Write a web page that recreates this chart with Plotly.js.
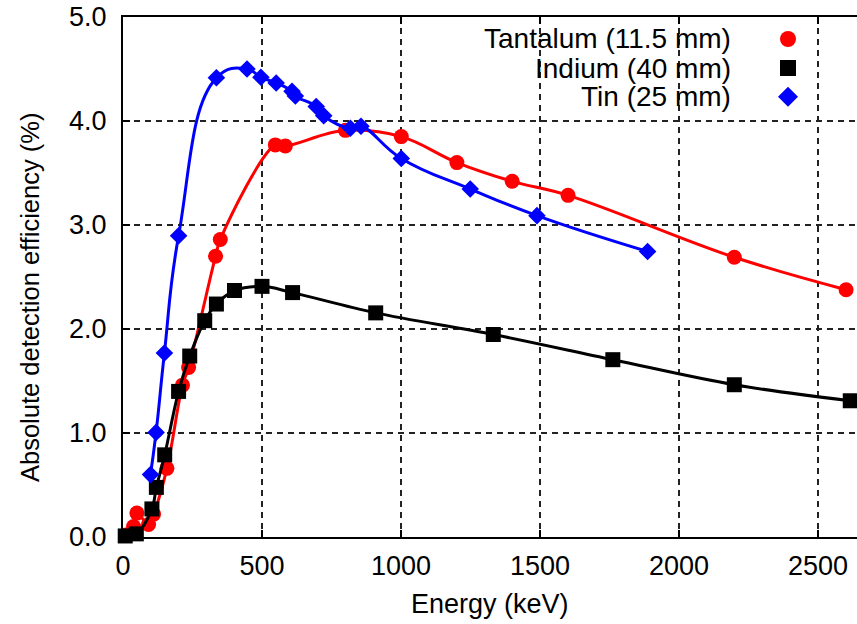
<!DOCTYPE html>
<html><head><meta charset="utf-8">
<script src="https://cdn.plot.ly/plotly-3.0.1.min.js"></script>
<style>html,body{margin:0;padding:0;background:#fff}</style>
</head><body><div id="chart" style="width:857px;height:624px"></div>
<script>
// Energies in keV, efficiencies in %
const tantalumEnergy = [10, 38, 50, 92, 110, 158, 214, 236, 333, 350, 548, 584, 800, 1001, 1201, 1400, 1601, 2199, 2601];
const tantalumEff    = [0.02, 0.10, 0.23, 0.12, 0.22, 0.66, 1.46, 1.63, 2.70, 2.86, 3.77, 3.76, 3.91, 3.85, 3.60, 3.42, 3.285, 2.69, 2.378];

const indiumEnergy = [8, 48, 104, 120, 150, 200, 240, 294, 336, 401, 500, 610, 909, 1332, 1762, 2199, 2616];
const indiumEff    = [0.01, 0.03, 0.27, 0.477, 0.79, 1.40, 1.74, 2.08, 2.24, 2.37, 2.41, 2.35, 2.155, 1.947, 1.705, 1.464, 1.31];

const tinEnergy = [99, 119, 149, 200, 336, 446, 496, 551, 608, 620, 695, 722, 818, 856, 1001, 1249, 1489, 1887];
const tinEff    = [0.60, 1.006, 1.77, 2.897, 4.415, 4.50, 4.42, 4.365, 4.285, 4.24, 4.14, 4.05, 3.93, 3.95, 3.64, 3.346, 3.09, 2.745];

const seriesNames = ['Tantalum (11.5 mm)', 'Indium (40 mm)', 'Tin (25 mm)'];
const xTicks = [0, 500, 1000, 1500, 2000, 2500];
const yTicks = [0, 1, 2, 3, 4, 5];

const FONT = 'Liberation Sans, Arial, Helvetica, sans-serif';

function series(x, y, color, symbol, size, smooth) {
  return {
    x: x, y: y, type: 'scatter', mode: 'lines+markers', cliponaxis: false,
    line: {color: color, width: 3, shape: 'spline', smoothing: smooth},
    marker: {color: color, symbol: symbol, size: size, line: {width: 0}},
    showlegend: false, hoverinfo: 'skip'
  };
}

const traces = [
  series(tantalumEnergy, tantalumEff, '#ff0000', 'circle', 15, 1.1),
  series(indiumEnergy, indiumEff, '#000000', 'square', 15, 1),
  series(tinEnergy, tinEff, '#0000ff', 'diamond', 13.5, 1.3)
];

const L = 123, T = 17, W = 857, H = 624, B = 87;
const pw = W - L, ph = H - T - B;
const px2x = p => (p - L) / pw;
const px2y = p => (H - B - p) / ph;

const legendRows = [39, 68, 96.7];
const annotations = [];
const shapes = [];
seriesNames.forEach((n, i) => {
  annotations.push({
    text: n, xref: 'paper', yref: 'paper', x: px2x(733), y: px2y(legendRows[i]),
    xanchor: 'right', yanchor: 'middle', showarrow: false,
    font: {family: FONT, size: 28, color: '#000'}
  });
});
const mx = px2x(788);
shapes.push({type: 'circle', xref: 'paper', yref: 'paper', xsizemode: 'pixel', ysizemode: 'pixel',
  xanchor: mx, yanchor: px2y(legendRows[0]), x0: -8, x1: 8, y0: -8, y1: 8,
  fillcolor: '#ff0000', line: {width: 0}});
shapes.push({type: 'rect', xref: 'paper', yref: 'paper', xsizemode: 'pixel', ysizemode: 'pixel',
  xanchor: mx, yanchor: px2y(legendRows[1]), x0: -8, x1: 8, y0: -8, y1: 8,
  fillcolor: '#000000', line: {width: 0}});
shapes.push({type: 'path', xref: 'paper', yref: 'paper', xsizemode: 'pixel', ysizemode: 'pixel',
  xanchor: mx, yanchor: px2y(legendRows[2]), path: 'M -10 0 L 0 10 L 10 0 L 0 -10 Z',
  fillcolor: '#0000ff', line: {width: 0}});

annotations.push({
  text: 'Energy (keV)', xref: 'paper', yref: 'paper', x: 0.5, y: px2y(604),
  xanchor: 'center', yanchor: 'middle', showarrow: false,
  font: {family: FONT, size: 27, color: '#000'}
});
annotations.push({
  text: 'Absolute detection efficiency (%)', xref: 'paper', yref: 'paper', x: px2x(30), y: px2y(298),
  xanchor: 'center', yanchor: 'middle', showarrow: false, textangle: -90,
  font: {family: FONT, size: 25.5, color: '#000'}
});

const layout = {
  width: W, height: H,
  margin: {l: L, r: 0, t: T, b: B, pad: 0},
  paper_bgcolor: '#fff', plot_bgcolor: '#fff',
  font: {family: FONT, size: 27, color: '#000'},
  xaxis: {
    range: [0, (W - L) / 0.278], tickvals: xTicks, ticktext: xTicks.map(String),
    showline: true, linecolor: '#000', linewidth: 2, mirror: 'allticks',
    ticks: 'inside', ticklen: 7, tickwidth: 1.5, tickcolor: '#000',
    showgrid: true, gridcolor: '#222', gridwidth: 1.2, griddash: '6px,5px',
    zeroline: false, ticklabelstandoff: 4,
    tickfont: {family: FONT, size: 27, color: '#000'}
  },
  yaxis: {
    range: [0, 5], tickvals: yTicks, ticktext: yTicks.map(v => v.toFixed(1)),
    showline: true, linecolor: '#000', linewidth: 2, mirror: false,
    ticks: 'inside', ticklen: 7, tickwidth: 1.5, tickcolor: '#000',
    showgrid: true, gridcolor: '#222', gridwidth: 1.2, griddash: '6px,5px',
    zeroline: false, ticklabelstandoff: 9,
    tickfont: {family: FONT, size: 27, color: '#000'}
  },
  annotations: annotations,
  shapes: shapes,
  showlegend: false
};

Plotly.newPlot('chart', traces, layout, {staticPlot: true, displayModeBar: false});
</script>
</body></html>
